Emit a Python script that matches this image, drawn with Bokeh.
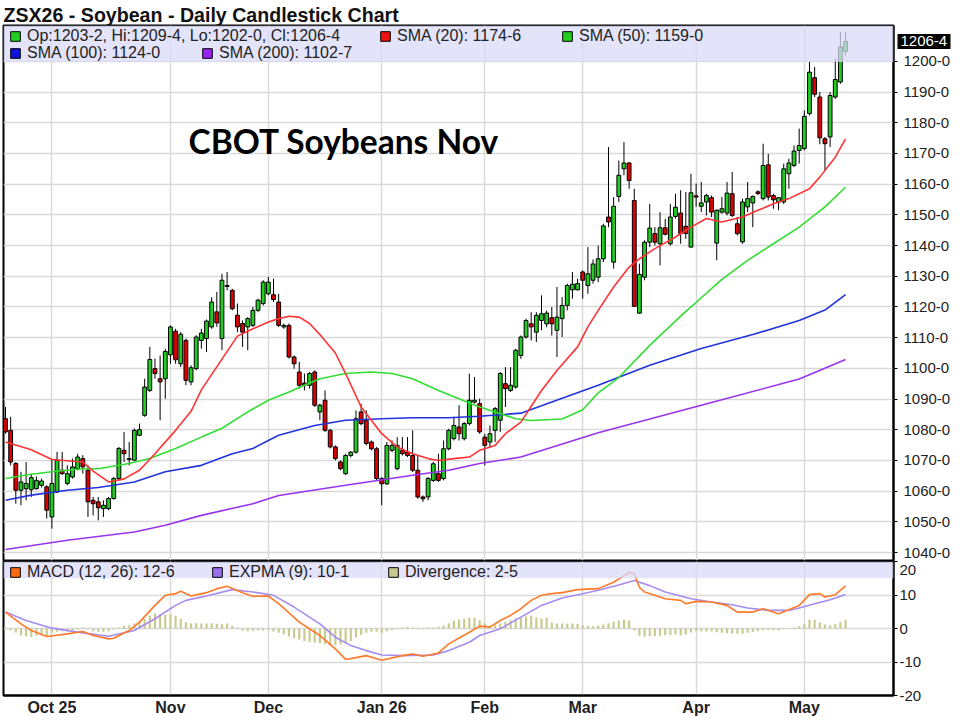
from bokeh.plotting import figure
from bokeh.models import (Range1d, LinearAxis, FixedTicker, Grid, BoxAnnotation, Label, Title,
                          Legend, LegendItem, ColumnDataSource, CustomJSTickFormatter)
from bokeh.layouts import column
from bokeh.embed import file_html
from bokeh.resources import INLINE

# ---------------- data ----------------
opens = [1083.6,1079.8,1069.0,1060.3,1060.8,1060.5,1060.8,1061.9,1061.4,1051.6,
         1059.7,1066.8,1062.5,1064.6,1067.3,1070.6,1066.8,1057.0,1056.5,1054.3,
         1054.3,1057.6,1064.1,1073.3,1070.3,1070.1,1078.2,1084.7,1092.8,1099.9,
         1096.6,1096.6,1104.4,1112.1,1101.5,1109.1,1095.6,1099.9,1109.1,1109.7,
         1113.5,1118.4,1109.7,1127.0,1125.4,1117.3,1114.6,1113.5,1114.0,1118.9,
         1121.1,1124.3,1124.0,1121.6,1113.5,1114.0,1103.7,1098.8,1095.2,1094.5,
         1098.8,1085.8,1089.6,1079.8,1074.4,1069.5,1065.7,1071.6,1072.7,1085.8,
         1083.1,1076.0,1073.8,1064.1,1062.4,1073.3,1067.3,1073.3,1072.7,1071.6,
         1066.8,1058.1,1058.1,1063.5,1065.7,1064.1,1073.8,1077.1,1080.9,1077.1,
         1082.0,1089.0,1088.5,1077.6,1076.0,1079.8,1083.1,1095.0,1092.8,1093.9,
         1104.2,1110.2,1114.5,1111.8,1115.6,1114.5,1116.5,1112.4,1116.2,1120.5,
         1125.6,1125.6,1131.4,1127.0,1128.7,1129.7,1135.7,1149.3,1134.6,1156.0,
         1165.0,1166.9,1154.7,1118.0,1129.7,1141.1,1143.9,1140.6,1145.8,1140.6,
         1149.5,1150.6,1146.3,1139.5,1156.2,1152.8,1154.2,1155.6,1140.8,1150.9,
         1150.6,1156.9,1147.1,1141.2,1152.6,1153.9,1157.5,1155.3,1166.3,1156.3,
         1154.2,1154.2,1163.4,1166.1,1171.0,1171.6,1183.0,1194.7,1188.4,1174.8,
         1175.4,1188.4,1193.3,1203.25]
highs = [1087.4,1084.2,1069.5,1066.3,1069.5,1065.7,1064.8,1064.1,1061.9,1070.6,
         1072.8,1072.8,1068.4,1070.6,1072.2,1071.7,1068.4,1058.1,1058.1,1057.0,
         1058.1,1064.6,1074.4,1079.3,1076.0,1080.4,1082.0,1096.6,1107.0,1103.2,
         1104.2,1106.4,1114.0,1112.9,1111.8,1109.7,1101.0,1110.8,1112.9,1115.9,
         1123.2,1124.9,1130.8,1131.4,1125.9,1121.1,1115.6,1116.7,1120.0,1122.7,
         1128.7,1129.8,1129.2,1124.3,1114.6,1114.6,1104.2,1102.1,1098.3,1098.8,
         1099.4,1088.5,1092.8,1080.3,1074.9,1070.0,1072.2,1073.0,1086.3,1088.5,
         1086.3,1076.5,1074.4,1064.6,1076.0,1076.5,1077.6,1077.6,1077.6,1079.8,
         1071.6,1058.6,1064.6,1069.5,1072.2,1076.5,1080.3,1084.2,1088.0,1082.5,
         1098.3,1097.2,1090.1,1078.7,1081.4,1087.4,1098.8,1100.4,1100.4,1106.4,
         1110.7,1116.2,1118.3,1118.3,1123.8,1118.8,1120.0,1126.5,1123.2,1127.6,
         1131.4,1129.2,1131.9,1139.5,1135.5,1140.0,1147.1,1172.1,1155.8,1167.7,
         1173.7,1167.2,1158.5,1134.1,1141.7,1153.6,1146.0,1150.9,1148.7,1153.6,
         1156.9,1158.0,1157.4,1163.4,1160.2,1160.7,1156.9,1156.3,1151.8,1155.8,
         1160.7,1164.0,1149.3,1155.3,1160.7,1156.3,1158.0,1173.2,1169.9,1156.9,
         1155.8,1166.7,1168.3,1172.6,1178.1,1184.0,1199.8,1198.2,1190.0,1175.4,
         1190.0,1200.9,1209.6,1209.5]
lows = [1078.7,1068.4,1055.9,1055.4,1057.0,1058.1,1060.5,1061.2,1051.1,1047.8,
        1059.4,1065.2,1061.9,1064.1,1066.8,1065.7,1051.6,1052.1,1050.5,1051.6,
        1053.8,1057.2,1063.5,1069.5,1068.4,1069.8,1077.9,1084.2,1092.3,1096.6,
        1083.1,1090.1,1101.5,1101.5,1100.4,1094.5,1094.5,1099.4,1106.4,1105.3,
        1112.9,1113.5,1105.9,1125.4,1118.9,1111.8,1107.0,1105.9,1113.5,1118.3,
        1120.5,1123.8,1121.6,1113.5,1112.9,1103.2,1099.9,1093.4,1092.8,1093.4,
        1087.4,1083.1,1079.3,1073.9,1070.0,1066.8,1065.2,1071.0,1072.2,1081.4,
        1074.9,1073.3,1063.5,1055.4,1062.0,1072.7,1066.8,1071.6,1071.1,1066.2,
        1057.5,1056.5,1057.0,1063.0,1063.0,1063.5,1073.3,1076.5,1076.5,1076.5,
        1081.4,1088.5,1078.7,1068.4,1074.4,1076.0,1079.3,1087.4,1092.3,1093.4,
        1103.1,1109.7,1109.1,1108.6,1112.4,1113.4,1110.7,1103.7,1110.2,1118.9,
        1122.7,1125.4,1122.7,1124.3,1127.6,1128.1,1134.6,1146.0,1132.5,1154.2,
        1162.9,1158.5,1120.0,1117.8,1128.7,1139.5,1140.0,1133.5,1143.3,1140.0,
        1148.8,1140.6,1142.2,1139.5,1152.6,1150.9,1149.8,1149.3,1135.2,1150.4,
        1149.8,1149.3,1143.3,1140.6,1150.9,1146.0,1156.4,1154.7,1154.7,1152.0,
        1151.5,1153.6,1158.5,1165.6,1166.7,1171.0,1182.4,1188.4,1173.0,1164.5,
        1172.1,1187.8,1192.7,1202.0]
closes = [1079.3,1069.5,1060.3,1063.0,1062.5,1064.4,1063.5,1063.3,1053.8,1062.5,
          1070.1,1065.7,1065.7,1067.9,1071.1,1067.9,1056.5,1055.9,1054.6,1055.4,
          1057.6,1064.1,1073.9,1072.2,1070.6,1079.8,1080.0,1093.9,1102.9,1098.3,
          1095.6,1105.5,1113.5,1102.8,1111.1,1096.1,1100.2,1110.2,1111.5,1115.4,
          1121.6,1114.8,1128.7,1126.7,1119.4,1113.5,1111.8,1116.2,1118.9,1122.2,
          1128.1,1128.1,1122.4,1114.0,1114.0,1103.7,1101.5,1094.5,1094.5,1098.3,
          1088.0,1088.0,1079.8,1074.4,1070.6,1067.3,1071.6,1072.7,1083.6,1082.0,
          1075.5,1073.8,1064.1,1062.4,1074.9,1074.9,1074.9,1072.2,1071.6,1066.8,
          1058.1,1057.5,1064.1,1068.9,1063.5,1073.8,1079.8,1081.4,1078.7,1082.0,
          1089.6,1089.6,1079.3,1074.9,1078.7,1086.9,1098.3,1093.4,1094.5,1105.9,
          1110.2,1115.6,1113.5,1117.3,1117.8,1118.0,1114.5,1116.7,1120.5,1127.0,
          1127.4,1127.6,1128.7,1130.8,1134.0,1135.7,1146.4,1147.7,1152.8,1162.9,
          1166.9,1161.2,1120.2,1130.6,1141.1,1145.7,1141.1,1145.8,1143.7,1149.3,
          1152.5,1143.9,1143.9,1157.2,1155.8,1153.9,1156.3,1150.9,1151.5,1152.0,
          1157.1,1149.8,1143.9,1154.2,1155.3,1156.0,1157.0,1166.1,1155.8,1154.9,
          1155.6,1165.0,1166.9,1170.8,1172.6,1182.1,1196.5,1189.3,1175.1,1173.2,
          1188.9,1194.1,1204.7,1206.5]

sma20_idx = [0,5,9,15,17,20,23,26,29,33,36,38,42,45,48,51,53,55,57,59,61,64,66,69,73,76,79,82,
             84,87,90,92,95,97,100,104,107,111,113,115,118,121,123,126,130,133,136,139,143,146,
             149,152,156,158,161,163]
sma20_val = [1076,1073.5,1070.3,1069.5,1066.5,1063.0,1064.0,1066.8,1072.2,1079.8,1086,1093,1103,
             1110.5,1112.9,1115.1,1116.2,1117.0,1116.7,1114.6,1111.0,1105,1098.3,1087.4,1078.7,
             1074.4,1072.2,1070.6,1070.0,1070.6,1071.1,1073.3,1074.9,1078.7,1082.5,1092.8,1099.3,
             1107.0,1113.5,1118.9,1126.5,1133.0,1135.7,1139.0,1142.8,1146,1148.8,1147.7,1149.3,
             1151.5,1153.6,1155.3,1158.5,1162.3,1168.8,1174.75]
sma50_idx = [0,5,9,15,18,24,28,33,38,42,47,51,55,58,61,66,71,75,79,84,88,91,95,99,102,108,112,
             115,119,125,131,135,139,144,149,154,159,163]
sma50_val = [1064.1,1065.5,1066.3,1067.3,1067.3,1069.0,1070.6,1073.9,1077.6,1080.5,1085.8,1089.6,
             1092.3,1094.5,1096.6,1098.3,1098.8,1098.3,1096.6,1092.8,1090.1,1088.0,1085.8,1083.6,
             1083.0,1083.5,1086.5,1092,1097,1107.5,1117,1123,1129,1135.2,1140.6,1146.0,1152.6,1159.0]
sma100_idx = [0,5,12,18,25,31,38,44,48,53,60,66,73,79,86,92,100,106,115,125,135,145,154,159,163]
sma100_val = [1057.0,1058.7,1060.3,1061.2,1063.0,1066.3,1068.4,1072.2,1073.9,1078.2,1081.4,1083.1,
              1083.6,1083.9,1083.9,1084.4,1085.4,1089,1094.5,1101,1106.5,1111,1115.6,1119,1124.0]
sma200_idx = [0,12,25,31,38,48,53,66,79,86,92,100,115,135,154,163]
sma200_val = [1041.0,1044.0,1046.7,1048.9,1052.1,1055.9,1058.6,1061.9,1065.2,1066.8,1069.0,1071.1,
              1079,1088,1096.5,1102.875]

macd_idx = [0,3,5,8,12,15,17,20,21,24,26,29,31,33,34,36,39,41,43,46,48,51,53,57,61,64,66,67,70,
            73,77,79,81,84,86,90,92,94,96,98,100,102,104,106,108,111,115,118,120,121,122,123,124,
            127,128,131,132,134,137,140,141,142,145,147,150,154,156,158,159,161,163]
macd_val = [4.9,1.4,-0.6,-2.4,-1.6,-0.9,-2.1,-3.1,-2.9,-0.6,1.9,6.9,9.9,10.4,11.1,9.7,10.7,11.9,
            12.6,10.7,9.6,9.7,7.4,1.9,-2.1,-6.1,-9.2,-9.0,-8.1,-9.5,-8.1,-7.6,-8.3,-7.3,-4.6,-1.1,
            0.7,0.4,2.4,3.9,5.9,8.4,9.9,10.4,10.7,11.6,11.9,13.8,15.8,16.8,16.3,12.3,10.9,9.4,8.9,
            8.4,7.4,8.1,7.9,6.9,5.9,4.9,4.9,5.9,4.4,6.9,10.1,10.4,9.4,10.1,12.75]
expma_idx = [0,4,9,15,20,25,29,33,35,39,44,48,52,56,61,64,67,70,73,77,83,86,90,92,96,100,104,108,
             112,115,119,122,125,128,133,137,141,144,148,152,154,157,160,163]
expma_val = [4.9,2.4,0.1,-1.3,-2.3,-0.6,2.9,6.9,8.4,9.7,11.6,10.9,9.9,6.4,1.4,-2.6,-5.1,-6.6,-7.9,
             -8.1,-7.9,-6.6,-4.1,-2.1,-0.1,3.4,6.9,9.1,10.4,11.4,13.0,14.3,12.8,10.9,8.9,7.9,7.1,
             6.1,5.4,5.4,6.1,7.4,8.6,10.125]
divergence = [-0.3,-0.6,-1.2,-2.0,-2.3,-2.5,-2.2,-2.0,-2.5,-1.3,
              -1.0,-0.8,-0.8,-0.5,-0.3,0.3,-0.3,-0.8,-1.0,-1.0,
              -0.8,-0.3,0.3,0.8,1.0,1.5,2.0,2.8,3.8,4.5,
              4.3,4.1,4.2,3.8,2.8,1.9,1.6,1.6,1.5,1.5,
              1.6,1.4,1.3,1.5,0.8,0.2,-0.6,-0.8,-0.7,-0.5,
              -0.6,-0.4,-0.9,-1.3,-1.7,-2.4,-2.9,-3.3,-3.7,-4.0,
              -4.2,-4.4,-4.7,-5.0,-5.0,-4.8,-4.5,-3.7,-2.7,-1.9,
              -1.3,-1.0,-1.0,-1.3,-0.8,-0.5,-0.2,0.3,0.5,0.3,
              0.2,-0.2,0.2,0.3,0.5,0.9,1.6,2.3,2.7,2.9,3.2,3.2,
              2.5,1.5,0.8,1.0,1.5,2.0,2.5,3.0,3.3,3.6,
              3.8,3.3,3.0,3.2,1.8,1.5,1.5,1.4,1.5,1.4,
              1.0,0.8,0.7,0.9,1.2,1.6,2.0,2.4,2.6,2.4,
              -0.6,-2.2,-2.4,-2.3,-2.3,-2.2,-2.0,-1.9,-1.8,-2.1,
              -1.8,-1.2,-0.8,-0.9,-1.0,-0.9,-1.1,-1.3,-1.4,-1.5,
              -1.6,-1.6,-1.3,-1.0,-0.8,-0.5,-0.4,-0.5,-0.6,-0.2,
              0.1,0.3,0.7,1.3,2.6,2.6,1.8,1.2,1.0,1.3,2.0,2.625]

month_idx = [9, 32, 51, 73, 93, 112, 134, 155]
month_labels = ["Oct 25", "Nov", "Dec", "Jan 26", "Feb", "Mar", "Apr", "May"]
price_ticks = list(range(1040, 1201, 10))
macd_ticks = [-20, -10, 0, 10, 20]

# ---------------- helpers ----------------
def eighths(v):
    neg = v < 0
    v = abs(v)
    w = int(v)
    f = int(round((v - w) * 8))
    if f == 8:
        w, f = w + 1, 0
    return ("-" if neg else "") + f"{w}-{f}"

FONT = "Liberation Sans"
GREEN = "#22cc22"
RED = "#dd0000"
GRID = "#d9d9d9"
BAND = "#dadaf8"

X0, X1 = -0.39, 172.3
x_range = Range1d(X0, X1)
OFF = X0 - 20  # legend key glyphs live outside the visible x range

def strip_grids(fig):
    fig.center = [c for c in fig.center if not isinstance(c, Grid)]

def swatch_legend(fig, renderer, text, x, y):
    lg = Legend(items=[LegendItem(label=text, renderers=[renderer])], location=(x, y),
                orientation="horizontal", padding=0, margin=0, spacing=0,
                glyph_width=12, glyph_height=12, label_standoff=6, label_height=16,
                background_fill_alpha=0, border_line_alpha=0,
                label_text_font_size="16px", label_text_font=FONT, label_text_color="#222222")
    fig.add_layout(lg)

def key(fig, color):
    return fig.vbar(x=[OFF], top=[0], bottom=[0], width=1, fill_color=color, line_color="black")

def blank_axis(ticks, tick_out):
    return LinearAxis(ticker=FixedTicker(ticks=ticks),
                      formatter=CustomJSTickFormatter(code="return ''"),
                      axis_line_color="black", axis_line_width=2,
                      major_tick_out=tick_out, major_tick_in=0, minor_tick_out=0, minor_tick_in=0,
                      major_tick_line_color="black", major_label_standoff=0)

# ---------------- main price panel ----------------
YB, YT = 1037.4, 1211.7
FH = 535  # frame height in px
p = figure(width=960, height=561, x_range=x_range, y_range=Range1d(YB, YT),
           output_backend="svg", toolbar_location=None,
           x_axis_location=None, y_axis_location=None,
           min_border_left=3, min_border_right=67, min_border_top=25, min_border_bottom=1,
           background_fill_color="white", border_fill_color="white",
           outline_line_color="black", outline_line_width=2)
strip_grids(p)
p.add_layout(Title(text="ZSX26 - Soybean - Daily Candlestick Chart", text_font=FONT,
                   text_font_style="bold", text_font_size="19.6px", text_color="#111111",
                   align="left", standoff=0, offset=0), "above")
p.add_layout(Grid(dimension=0, ticker=FixedTicker(ticks=month_idx),
                  grid_line_color=GRID, grid_line_width=1.5))
p.add_layout(Grid(dimension=1, ticker=FixedTicker(ticks=price_ticks),
                  grid_line_color=GRID, grid_line_width=1.5))

idx = list(range(len(closes)))
up = dict(x=[], o=[], h=[], l=[], c=[], top=[], bot=[])
dn = dict(x=[], o=[], h=[], l=[], c=[], top=[], bot=[])
for i, o, h, l, c in zip(idx, opens, highs, lows, closes):
    d = up if c >= o else dn
    d["x"].append(i); d["o"].append(o); d["h"].append(h); d["l"].append(l); d["c"].append(c)
    d["top"].append(max(o, c)); d["bot"].append(min(o, c))
up_src = ColumnDataSource(up)
dn_src = ColumnDataSource(dn)

for s in (up_src, dn_src):
    p.segment(x0="x", y0="l", x1="x", y1="h", line_color="black", line_width=1, source=s)
up_r = p.vbar(x="x", width=0.74, top="top", bottom="bot", fill_color=GREEN,
              line_color="black", line_width=1, source=up_src)
p.vbar(x="x", width=0.74, top="top", bottom="bot", fill_color=RED,
       line_color="black", line_width=1, source=dn_src)

p.line(sma200_idx, sma200_val, line_color="#9933ee", line_width=1.6)
p.line(sma100_idx, sma100_val, line_color="#2233dd", line_width=1.6)
p.line(sma50_idx, sma50_val, line_color="#33dd33", line_width=1.6)
p.line(sma20_idx, sma20_val, line_color="#ff3333", line_width=1.6)

# legend band (drawn over the plot, semi transparent)
p.add_layout(BoxAnnotation(bottom=1199.8, fill_color=BAND, fill_alpha=0.75, line_alpha=0))

ohlc_text = (f"Op:{eighths(opens[-1])}, Hi:{eighths(highs[-1])}, "
             f"Lo:{eighths(lows[-1])}, Cl:{eighths(closes[-1])}")
swatch_legend(p, up_r, ohlc_text, 6, FH - 20)
swatch_legend(p, key(p, "#ee1111"), f"SMA (20): {eighths(sma20_val[-1])}", 376, FH - 20)
swatch_legend(p, key(p, "#22cc22"), f"SMA (50): {eighths(sma50_val[-1])}", 558, FH - 20)
swatch_legend(p, key(p, "#1111dd"), f"SMA (100): {eighths(sma100_val[-1])}", 6, FH - 37)
swatch_legend(p, key(p, "#9922ee"), f"SMA (200): {eighths(sma200_val[-1])}", 198, FH - 37)

p.add_layout(Label(x=185, y=FH - 115, x_units="screen", y_units="screen",
                   text="CBOT Soybeans Nov", text_font="Lato", text_font_style="bold",
                   text_font_size="33.5px", text_color="black", text_baseline="middle"))

# right side: tick marks | last-price tag (black bar + white label) | tick labels
p.add_layout(blank_axis(price_ticks, 4), "right")
TAG_LEN = 53
tag_axis = LinearAxis(ticker=FixedTicker(ticks=[closes[-1]]),
                      formatter=CustomJSTickFormatter(
                          code=f"return '{eighths(closes[-1])}'"),
                      axis_line_alpha=0, major_tick_out=TAG_LEN, major_tick_in=0,
                      minor_tick_out=0, minor_tick_in=0,
                      major_tick_line_color="black", major_tick_line_width=15,
                      major_label_standoff=-(TAG_LEN - 3),
                      major_label_text_font=FONT, major_label_text_font_size="15px",
                      major_label_text_color="white")
p.add_layout(tag_axis, "right")
yax = LinearAxis(ticker=FixedTicker(ticks=price_ticks),
                 formatter=CustomJSTickFormatter(code="return tick.toFixed(0) + '-0'"),
                 axis_line_alpha=0, major_tick_out=0, major_tick_in=0,
                 minor_tick_out=0, minor_tick_in=0, major_label_standoff=-47,
                 major_label_text_font=FONT, major_label_text_font_size="15px",
                 major_label_text_color="#222222")
p.add_layout(yax, "right")

# ---------------- MACD panel ----------------
q = figure(width=960, height=159, x_range=x_range, y_range=Range1d(-20, 20),
           output_backend="svg", toolbar_location=None,
           x_axis_location=None, y_axis_location=None,
           min_border_left=3, min_border_right=67, min_border_top=0, min_border_bottom=25,
           background_fill_color="white", border_fill_color="white",
           outline_line_color="black", outline_line_width=2)
strip_grids(q)
q.add_layout(Grid(dimension=0, ticker=FixedTicker(ticks=month_idx),
                  grid_line_color=GRID, grid_line_width=1.5))
q.add_layout(Grid(dimension=1, ticker=FixedTicker(ticks=[-10, 0, 10]),
                  grid_line_color=GRID, grid_line_width=1.5))

q.add_layout(blank_axis(macd_ticks, 4), "right")
# the top label (20) is nudged just below the panel edge so that it is not cut off
qy = LinearAxis(ticker=FixedTicker(ticks=[-20, -10, 0, 10, 17.6]),
                formatter=CustomJSTickFormatter(code="return tick > 15 ? '20' : tick.toFixed(0)"),
                axis_line_alpha=0, major_tick_out=0, major_tick_in=0,
                minor_tick_out=0, minor_tick_in=0, major_label_standoff=2,
                major_label_text_font=FONT, major_label_text_font_size="15px",
                major_label_text_color="#222222")
q.add_layout(qy, "right")
qx = LinearAxis(ticker=FixedTicker(ticks=month_idx),
                major_label_overrides={t: s for t, s in zip(month_idx, month_labels)},
                axis_line_color="black", axis_line_width=2,
                major_tick_out=0, major_tick_in=0, minor_tick_out=0, minor_tick_in=0,
                major_label_standoff=3, major_label_text_font=FONT,
                major_label_text_font_style="bold",
                major_label_text_font_size="16px", major_label_text_color="#222222")
q.add_layout(qx, "below")

q.vbar(x=list(range(len(divergence))), top=divergence, bottom=0, width=0.42,
       fill_color="#c9c990", line_alpha=0)
q.line(expma_idx, expma_val, line_color="#a68cf0", line_width=1.6)
q.line(macd_idx, macd_val, line_color="#ff7b2a", line_width=1.6)

q.add_layout(BoxAnnotation(bottom=15.0, fill_color=BAND, fill_alpha=0.75, line_alpha=0))

QH = 134
swatch_legend(q, key(q, "#ff6a10"), f"MACD (12, 26): {eighths(macd_val[-1])}", 6, QH - 20)
swatch_legend(q, key(q, "#9a70ee"), f"EXPMA (9): {eighths(expma_val[-1])}", 208, QH - 20)
swatch_legend(q, key(q, "#c9c990"), f"Divergence: {eighths(divergence[-1])}", 384, QH - 20)

layout = column(p, q, spacing=0)
open("out.html", "w").write(file_html(layout, INLINE))
